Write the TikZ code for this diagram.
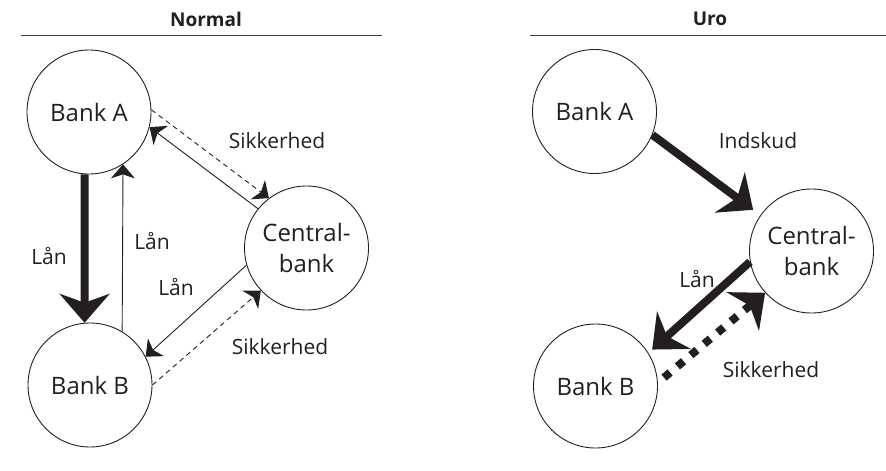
\documentclass[tikz,border=0pt]{standalone}
\usepackage{fontspec}
\setmainfont{Open Sans}
\usetikzlibrary{arrows.meta}
\definecolor{ink}{HTML}{231F20}
\begin{document}
\begin{tikzpicture}[x=1pt,y=-1pt,
  bank/.style={circle,draw=ink,line width=0.9pt,minimum size=124pt,inner sep=0pt,
    text=ink,align=center,font=\fontsize{24}{31}\selectfont},
  lbl/.style={text=ink,font=\fontsize{21}{24}\selectfont},
  ttl/.style={text=ink,font=\bfseries\fontsize{19}{24}\selectfont},
  rule/.style={line width=0.8pt,draw=ink!85},
  thinarrow/.style={draw=ink,line width=0.9pt,-{Stealth[length=14pt,width=24pt,inset=4pt,fill=ink]}},
  dasharrow/.style={thinarrow,dash pattern=on 5pt off 4pt},
  thickarrow/.style={draw=ink,line width=8pt,-{Stealth[length=29pt,width=50pt,inset=9pt,fill=ink]}},
  squarearrow/.style={thickarrow,dash pattern=on 8pt off 9.5pt}
]
\useasboundingbox (0,0) rectangle (886,471);

% ---------- Normal ----------
\node[ttl] (tN) at (206,19) {Normal};
\draw[rule] (21,35) -- (382,35);

\node[bank] (nA) at (89,112) {Bank A};
\node[bank] (nB) at (90,385) {Bank B};
\node[bank] (nC) at (306.5,248) {Central-\\bank};

\draw[thickarrow] (nA.266) -- (nB.95);
\draw[thinarrow] (nB.59) -- (nA.303);
\draw[thinarrow] (nC.141) -- (nA.346);
\draw[dasharrow] (nA.2) -- (nC.127);
\draw[thinarrow] (nC.196) -- (nB.27);
\draw[dasharrow] (nB.0) -- (nC.223);

\node[lbl] (l1) at (49,256) {Lån};
\node[lbl] (l2) at (152,241) {Lån};
\node[lbl] (l3) at (176,287) {Lån};
\node[lbl] (s1) at (277,141) {Sikkerhed};
\node[lbl] (s2) at (280,347) {Sikkerhed};

% ---------- Uro ----------
\node[ttl] (tU) at (710,19) {Uro};
\draw[rule] (530,35) -- (886,35);

\node[bank] (uA) at (594.5,111.5) {Bank A};
\node[bank] (uB) at (595.5,386) {Bank B};
\node[bank] (uC) at (811.5,251) {Central-\\bank};

\draw[thickarrow,shorten >=9pt] (uA.338) -- (uC.145);
\draw[thickarrow,shorten >=5pt] (uC.190) -- (uB.32.5);
\draw[squarearrow,shorten <=8pt] (uB.3) -- (uC.222);

\node[lbl] (i1) at (758,141) {Indskud};
\node[lbl] (l4) at (697,279) {Lån};
\node[lbl] (s3) at (771,370) {Sikkerhed};
\end{tikzpicture}
\end{document}
